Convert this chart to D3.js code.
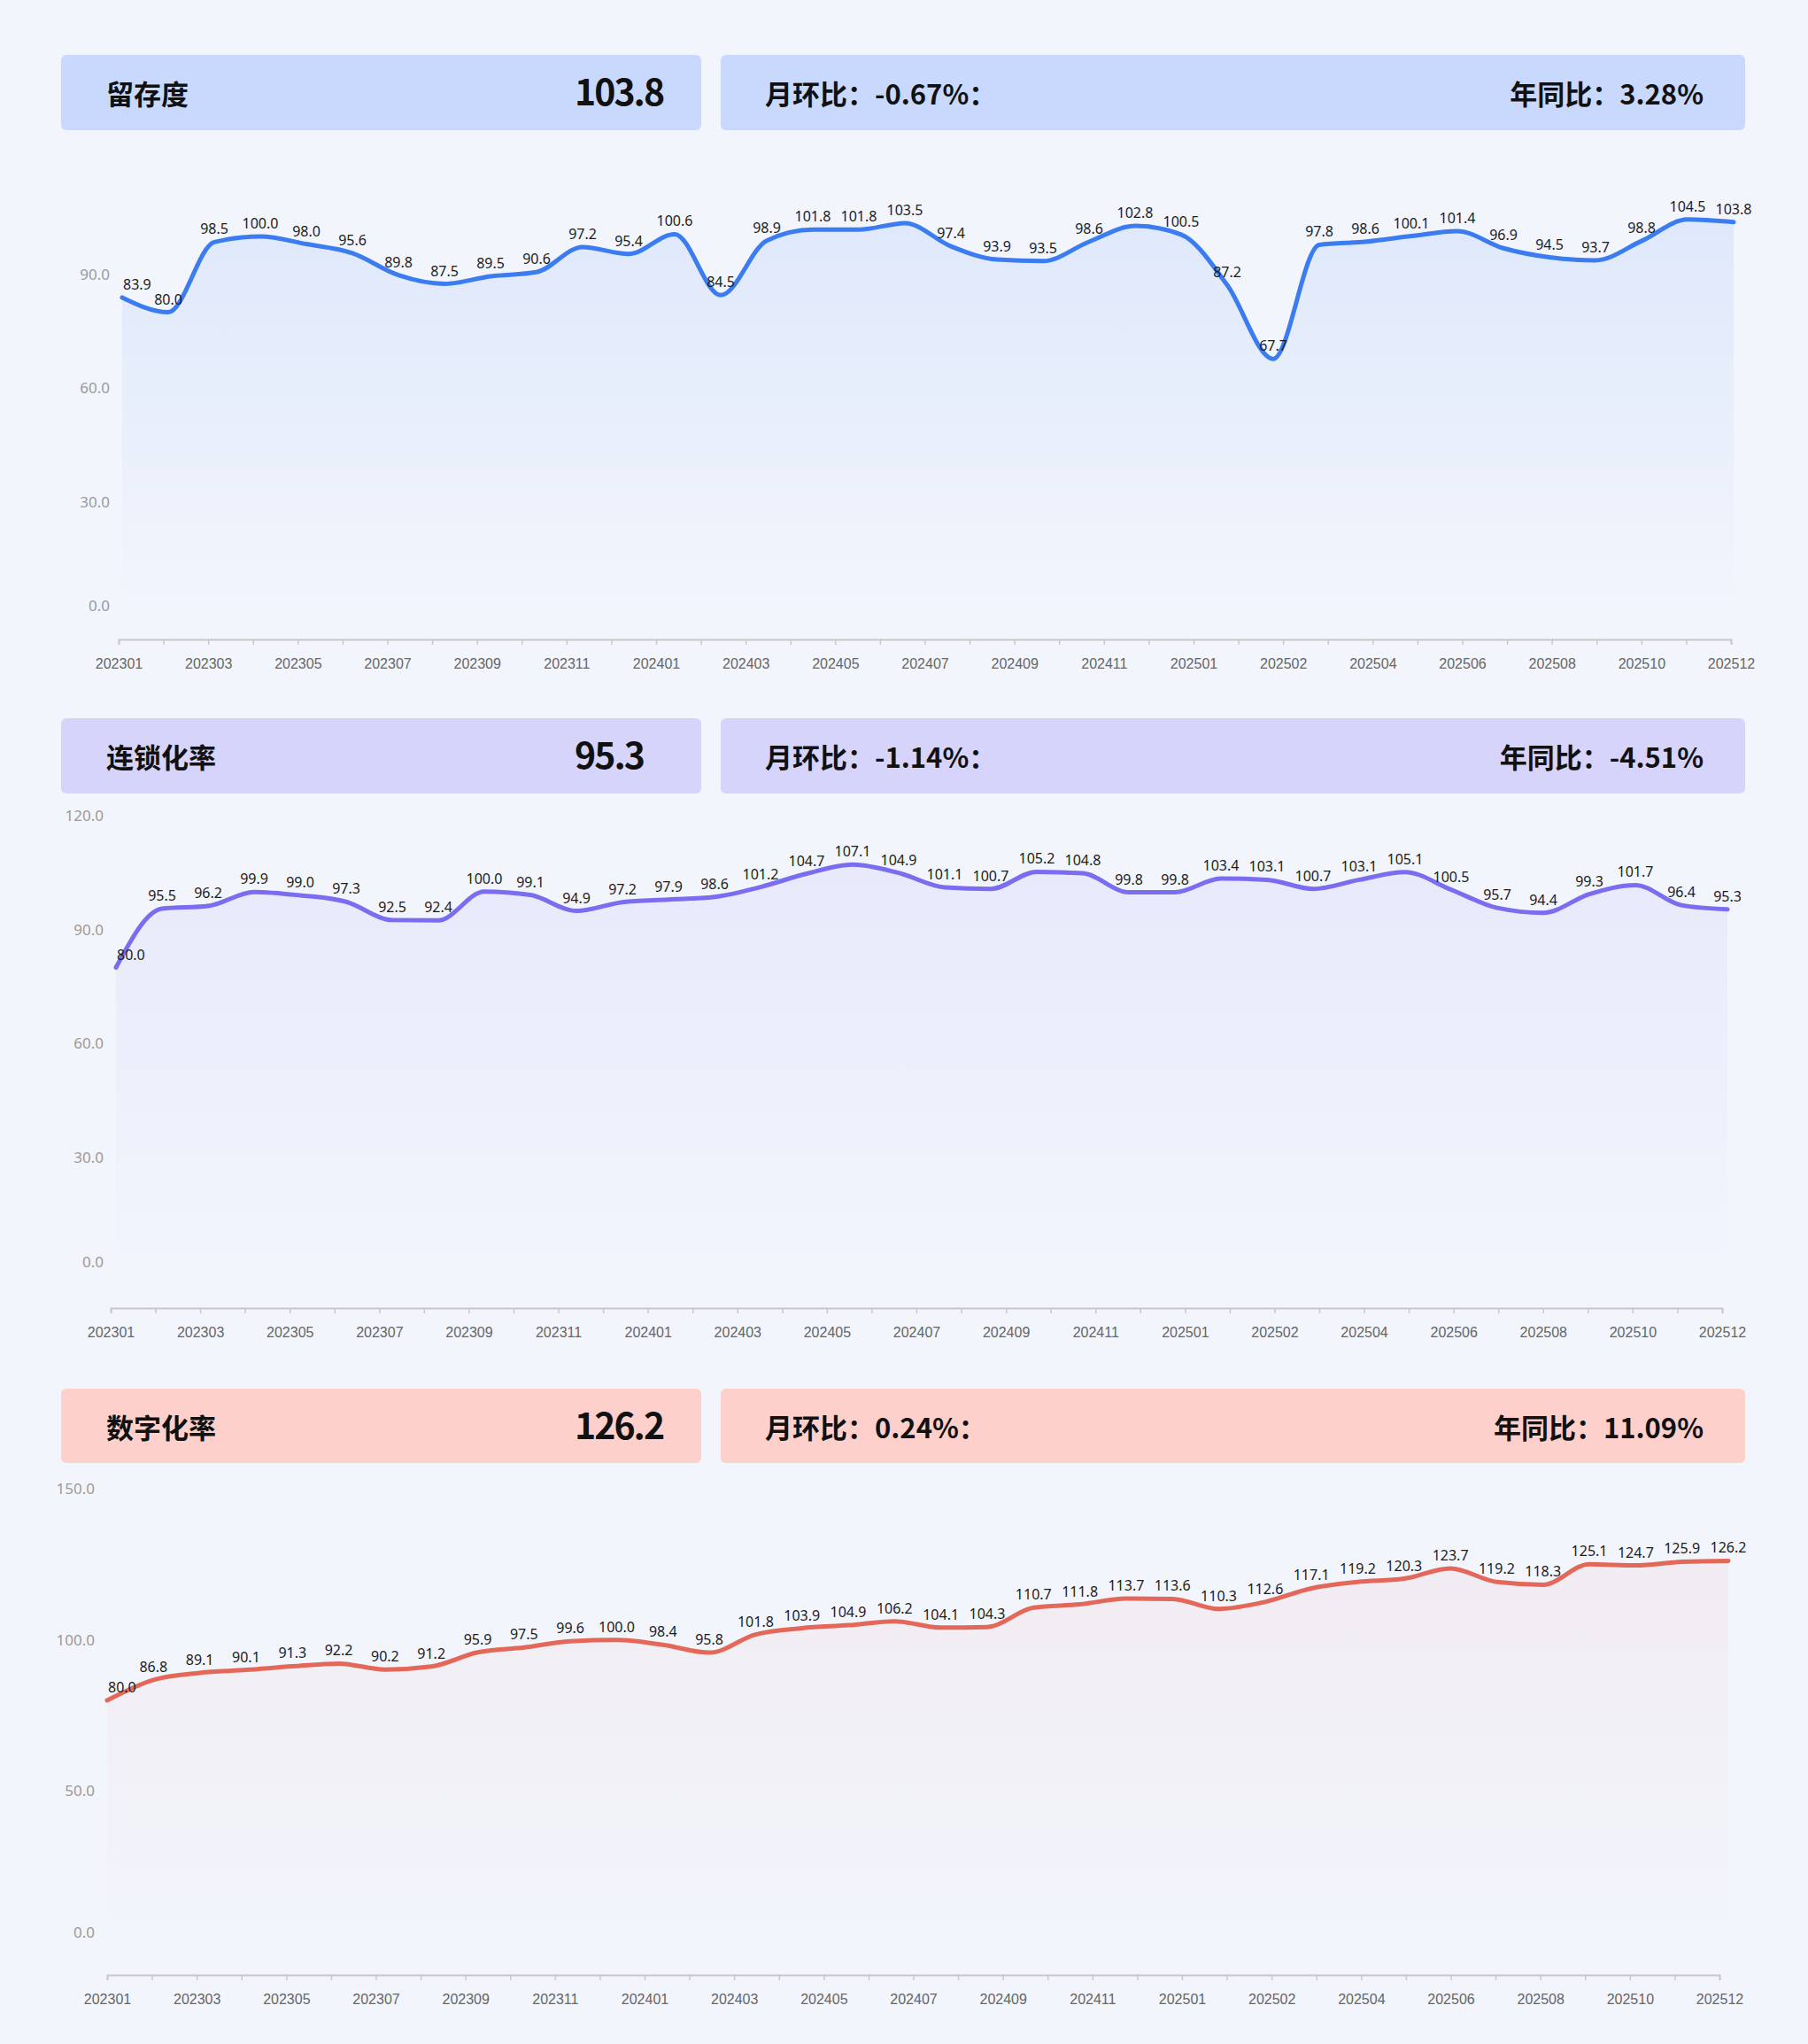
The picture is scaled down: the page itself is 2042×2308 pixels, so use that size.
<!DOCTYPE html>
<html>
<head>
<meta charset="utf-8">
<script src="https://cdn.jsdelivr.net/npm/d3@7"></script>
<style>
  html, body { margin: 0; padding: 0; background: #f2f5fc; }
  svg { display: block; }
</style>
</head>
<body>
<svg id="chart" width="2042" height="2308"></svg>
<script>
// ---------- DATA ----------
const months = [
  "202301","202302","202303","202304","202305","202306","202307","202308","202309","202310","202311","202312",
  "202401","202402","202403","202404","202405","202406","202407","202408","202409","202410","202411","202412",
  "202501","202502","202503","202504","202505","202506","202507","202508","202509","202510","202511","202512"
];
const tickLabels = ["202301","202303","202305","202307","202309","202311","202401","202403","202405","202407",
  "202409","202411","202501","202502","202504","202506","202508","202510","202512"];

const retention = [83.9, 80.0, 98.5, 100.0, 98.0, 95.6, 89.8, 87.5, 89.5, 90.6, 97.2, 95.4,
  100.6, 84.5, 98.9, 101.8, 101.8, 103.5, 97.4, 93.9, 93.5, 98.6, 102.8, 100.5,
  87.2, 67.7, 97.8, 98.6, 100.1, 101.4, 96.9, 94.5, 93.7, 98.8, 104.5, 103.8];
const chainRate = [80.0, 95.5, 96.2, 99.9, 99.0, 97.3, 92.5, 92.4, 100.0, 99.1, 94.9, 97.2,
  97.9, 98.6, 101.2, 104.7, 107.1, 104.9, 101.1, 100.7, 105.2, 104.8, 99.8, 99.8,
  103.4, 103.1, 100.7, 103.1, 105.1, 100.5, 95.7, 94.4, 99.3, 101.7, 96.4, 95.3];
const digitalRate = [80.0, 86.8, 89.1, 90.1, 91.3, 92.2, 90.2, 91.2, 95.9, 97.5, 99.6, 100.0,
  98.4, 95.8, 101.8, 103.9, 104.9, 106.2, 104.1, 104.3, 110.7, 111.8, 113.7, 113.6,
  110.3, 112.6, 117.1, 119.2, 120.3, 123.7, 119.2, 118.3, 125.1, 124.7, 125.9, 126.2];

const titles = ["留存度", "连锁化率", "数字化率"];
const headValues = ["103.8", "95.3", "126.2"];
const momTexts = ["月环比：-0.67%：", "月环比：-1.14%：", "月环比：0.24%："];
const yoyTexts = ["年同比：3.28%", "年同比：-4.51%", "年同比：11.09%"];
const yTicks1 = [0, 30, 60, 90];
const yTicks2 = [0, 30, 60, 90, 120];
const yTicks3 = [0, 50, 100, 150];

// ---------- LAYOUT / STYLE ----------
const panels = [
  { data: retention, yTicks: yTicks1, yMax: 120,
    head: { top: 62, h: 85 },
    axis: { x0: 134, x1: 1955, y: 722 },
    dataX: [138, 1958], yRange: [695, 181.4], yLabelX: 124,
    line: "#3b7cf1", fill: "#3b7cf1", fillOp: 0.10, box: "#c8d9fd" },
  { data: chainRate, yTicks: yTicks2, yMax: 120,
    head: { top: 811, h: 85 },
    axis: { x0: 125, x1: 1945, y: 1477 },
    dataX: [131, 1951], yRange: [1435.7, 920.9], yLabelX: 117,
    line: "#7a6df0", fill: "#7a6df0", fillOp: 0.08, box: "#d6d4fb" },
  { data: digitalRate, yTicks: yTicks3, yMax: 150,
    head: { top: 1568, h: 84 },
    axis: { x0: 121, x1: 1942, y: 2230 },
    dataX: [121, 1952], yRange: [2192.8, 1681.3], yLabelX: 107,
    line: "#e4685a", fill: "#e4685a", fillOp: 0.065, box: "#fdd0cc" }
];

const svg = d3.select("#chart");
const defs = svg.append("defs");
const cjk = "'Noto Sans CJK SC', 'Noto Sans', sans-serif";

panels.forEach((p, k) => {
  const g = svg.append("g");

  // ----- header boxes -----
  const ht = p.head.top, hh = p.head.h;
  g.append("rect").attr("x", 69).attr("y", ht).attr("width", 723).attr("height", hh)
    .attr("rx", 6).attr("fill", p.box);
  g.append("rect").attr("x", 814).attr("y", ht).attr("width", 1157).attr("height", hh)
    .attr("rx", 6).attr("fill", p.box);
  const base = ht + 56;
  g.append("text").attr("x", 120).attr("y", base).text(titles[k])
    .style("font-family", cjk).style("font-weight", 700).style("font-size", "31px").attr("fill", "#111");
  g.append("text").attr("x", 649).attr("y", base + 1).text(headValues[k])
    .style("font-family", cjk).style("font-weight", 700).style("font-size", "41px")
    .style("letter-spacing", "-2px").attr("fill", "#111");
  g.append("text").attr("x", 864).attr("y", base).text(momTexts[k])
    .style("font-family", cjk).style("font-weight", 700).style("font-size", "31px").attr("fill", "#111");
  g.append("text").attr("x", 1924).attr("y", base).attr("text-anchor", "end").text(yoyTexts[k])
    .style("font-family", cjk).style("font-weight", 700).style("font-size", "31px").attr("fill", "#111");

  // ----- scales -----
  const x = d3.scalePoint().domain(months).range(p.dataX);
  const y = d3.scaleLinear().domain([0, p.yMax]).range(p.yRange);
  const xa = d3.scaleLinear().domain([0, 36]).range([p.axis.x0, p.axis.x1]);

  // ----- area gradient -----
  const gid = "grad" + k;
  const grad = defs.append("linearGradient").attr("id", gid)
    .attr("gradientUnits", "userSpaceOnUse")
    .attr("x1", 0).attr("x2", 0).attr("y1", y(p.yMax * 0.85)).attr("y2", y(0));
  grad.append("stop").attr("offset", 0).attr("stop-color", p.fill).attr("stop-opacity", p.fillOp);
  grad.append("stop").attr("offset", 1).attr("stop-color", p.fill).attr("stop-opacity", 0.0);

  const area = d3.area().x((d, i) => x(months[i])).y0(y(0)).y1(d => y(d)).curve(d3.curveMonotoneX);
  const line = d3.line().x((d, i) => x(months[i])).y(d => y(d)).curve(d3.curveMonotoneX);

  g.append("path").datum(p.data).attr("d", area).attr("fill", `url(#${gid})`);

  // ----- y axis labels -----
  const yAxis = d3.axisLeft(y).tickValues(p.yTicks).tickSize(0).tickPadding(0).tickFormat(d3.format(".1f"));
  const yg = g.append("g").attr("transform", `translate(${p.yLabelX},0)`).call(yAxis);
  yg.select(".domain").remove();
  yg.selectAll("text").style("font-family", "'Noto Sans', sans-serif").style("font-size", "17px")
    .attr("fill", "#9a9a9a");
  yg.selectAll(".tick").filter(d => d === 0).select("text").attr("y", -11);

  // ----- x axis -----
  const xAxis = d3.axisBottom(xa).tickValues(d3.range(37)).tickSize(6).tickPadding(16)
    .tickFormat(i => (i % 2 === 0 ? tickLabels[i / 2] : ""));
  const xg = g.append("g").attr("transform", `translate(0,${p.axis.y})`).call(xAxis);
  xg.select(".domain").attr("stroke", "#c8c8c8").attr("stroke-width", 2);
  xg.selectAll(".tick line").attr("stroke", "#c8c8c8").attr("stroke-width", 1.5);
  xg.selectAll("text").style("font-family", "'Liberation Sans', Arial, sans-serif").style("font-size", "16px")
    .attr("fill", "#666");

  // ----- line -----
  g.append("path").datum(p.data).attr("d", line).attr("fill", "none")
    .attr("stroke", p.line).attr("stroke-width", 5).attr("stroke-linejoin", "round").attr("stroke-linecap", "round");

  // ----- data labels -----
  g.selectAll(".lbl").data(p.data).join("text")
    .attr("class", "lbl")
    .attr("x", (d, i) => x(months[i]) + (i === 0 ? 1 : 0))
    .attr("y", d => y(d) - 9)
    .attr("text-anchor", (d, i) => (i === 0 ? "start" : "middle"))
    .style("font-family", "'Noto Sans', sans-serif").style("font-size", "16px")
    .attr("fill", "#1c1c1c")
    .text(d => d3.format(".1f")(d));
});
</script>
</body>
</html>
